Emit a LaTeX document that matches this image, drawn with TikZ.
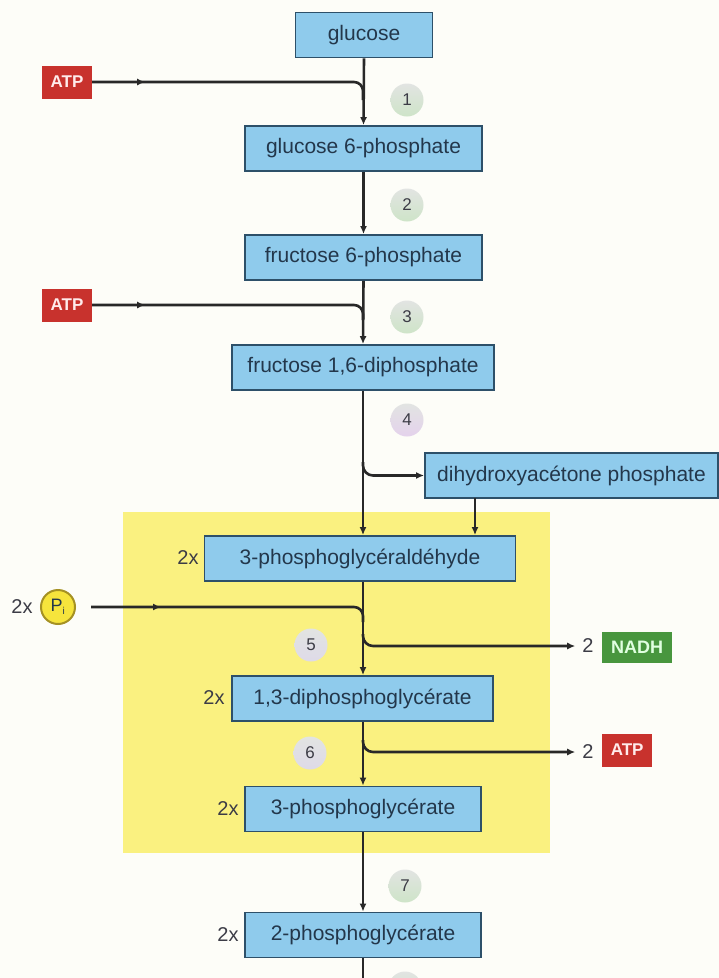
\documentclass[tikz,border=0pt]{standalone}
\usepackage{fontspec}
\setmainfont{Liberation Sans}
\usetikzlibrary{arrows.meta,calc}
\definecolor{bgc}{RGB}{253,253,248}
\definecolor{boxfill}{RGB}{143,203,236}
\definecolor{boxline}{RGB}{45,80,105}
\definecolor{txt}{RGB}{35,55,75}
\definecolor{linec}{RGB}{40,40,40}
\definecolor{yel}{RGB}{250,241,128}
\definecolor{atpred}{RGB}{200,50,45}
\definecolor{nadhgreen}{RGB}{72,150,62}
\definecolor{pifill}{RGB}{246,228,60}
\definecolor{piline}{RGB}{165,145,35}
\definecolor{numtxt}{RGB}{60,60,70}
\definecolor{stepgray}{RGB}{226,228,226}
\definecolor{stepgreen}{RGB}{206,228,200}
\definecolor{steppink}{RGB}{228,210,236}
\definecolor{steplav}{RGB}{222,218,232}
\begin{document}
\begin{tikzpicture}[x=1pt,y=-1pt,
  mbox/.style={draw=boxline, line width=1.8pt, fill=boxfill, text=txt, minimum height=45pt, inner sep=0pt, font=\fontsize{21}{21}\selectfont},
  stepc/.style={circle, minimum size=33pt, inner sep=0pt, top color=stepgray, bottom color=stepgreen, text=numtxt, font=\fontsize{17}{17}\selectfont},
  stepp/.style={stepc, top color=stepgray, bottom color=steppink},
  stepl/.style={stepc, top color=stepgray, bottom color=steplav},
  ln/.style={draw=linec, line width=2.6pt},
  arr/.style={ln, -{Latex[length=8pt,width=7pt]}},
  redbox/.style={fill=atpred, text=white!92!red, inner sep=0pt, minimum width=50pt, minimum height=33pt, font=\fontsize{17}{17}\selectfont\bfseries},
  greenbox/.style={fill=nadhgreen, text=white!88!green, inner sep=0pt, minimum width=70pt, minimum height=31pt, font=\fontsize{18}{18}\selectfont\bfseries},
  lab/.style={text=numtxt, inner sep=2pt, font=\fontsize{20}{20}\selectfont},
]
\useasboundingbox (0,0) rectangle (719,978);
\clip (0,0) rectangle (719,978);
\fill[bgc] (0,0) rectangle (719,978);
\fill[yel] (123,512) rectangle (550,853);

% boxes
\node[mbox, minimum width=137pt] (glc) at (364,35) {glucose};
\node[mbox, minimum width=237pt] (g6p) at (363.5,148.5) {glucose 6-phosphate};
\node[mbox, minimum width=237pt] (f6p) at (363.5,257.5) {fructose 6-phosphate};
\node[mbox, minimum width=262pt] (f16) at (363,367.5) {fructose 1,6-diphosphate};
\node[mbox, minimum width=293pt] (dhap) at (571.5,475.5) {dihydroxyacétone phosphate};
\node[mbox, minimum width=311pt] (pga) at (360,558.5) {3-phosphoglycéraldéhyde};
\node[mbox, minimum width=261pt] (dpg) at (362.5,698.5) {1,3-diphosphoglycérate};
\node[mbox, minimum width=236pt] (pg3) at (363,809) {3-phosphoglycérate};
\node[mbox, minimum width=236pt] (pg2) at (363,935) {2-phosphoglycérate};

% 2x labels
\node[lab] (x1) at (188,558) {2x};
\node[lab] (x2) at (214,698) {2x};
\node[lab] (x3) at (228,809) {2x};
\node[lab] (x4) at (228,935) {2x};

% inputs
\node[redbox] (atpA) at (67,82) {ATP};
\node[redbox] (atpB) at (67,305) {ATP};
\node[lab] (xpi) at (22,607) {2x};
\node[circle, draw=piline, line width=2pt, fill=pifill, minimum size=34pt, inner sep=0pt, text=txt, font=\fontsize{18}{18}\selectfont] (pi) at (58,607) {P\textsubscript{\fontsize{10}{10}\selectfont i}};

% outputs
\node[lab] (two1) at (588,646) {2};
\node[greenbox, anchor=west] (nadh) at (602,647.5) {NADH};
\node[lab] (two2) at (588,752) {2};
\node[redbox, anchor=west] (atpC) at (602,750) {ATP};

% main-line coordinates
\coordinate (jA) at (363,100);
\coordinate (jB) at (363,320);
\coordinate (b4) at (363,462);
\coordinate (j5) at (363,622);
\coordinate (b5) at (363,634);
\coordinate (b6) at (363,740);
\coordinate (bot) at (363,978);
\coordinate (d1) at (475,498);

% main line
\draw[arr] (glc.south) -- (g6p.north);
\draw[arr] (g6p.south) -- (f6p.north);
\draw[arr] (f6p.south) -- (f16.north);
\draw[arr] (f16.south) -- (f16.south |- pga.north);
\draw[arr] (pga.south -| f16.south) -- (dpg.north -| f16.south);
\draw[arr] (dpg.south -| f16.south) -- (pg3.north -| f16.south);
\draw[arr] (pg3.south) -- (pg2.north);
\draw[ln] (pg2.south) -- (bot);

% side branches
\draw[ln, rounded corners=9pt] (atpA.east) -| (jA);
\draw[arr] (atpA.east) -- ++(53,0);
\draw[ln, rounded corners=9pt] (atpB.east) -| (jB);
\draw[arr] (atpB.east) -- ++(53,0);
\draw[arr, rounded corners=10pt] (b4) |- (dhap.west);
\draw[arr] (d1) -- (d1 |- pga.north);
\draw[ln, rounded corners=9pt] ([xshift=15pt]pi.east) -| (j5);
\draw[arr] ([xshift=15pt]pi.east) -- ++(70,0);
\draw[arr, rounded corners=10pt] (b5) |- ([xshift=-5pt]two1.west);
\draw[arr, rounded corners=10pt] (b6) |- ([xshift=-5pt]two2.west);

% step circles
\node[stepc] (s1) at (407,100) {1};
\node[stepc] (s2) at (407,205) {2};
\node[stepc] (s3) at (407,317) {3};
\node[stepp] (s4) at (407,420) {4};
\node[stepl] (s5) at (311,645) {5};
\node[stepl] (s6) at (310,753) {6};
\node[stepc] (s7) at (405,886) {7};
\node[stepc] (s8) at (405,988) {};
\end{tikzpicture}
\end{document}
